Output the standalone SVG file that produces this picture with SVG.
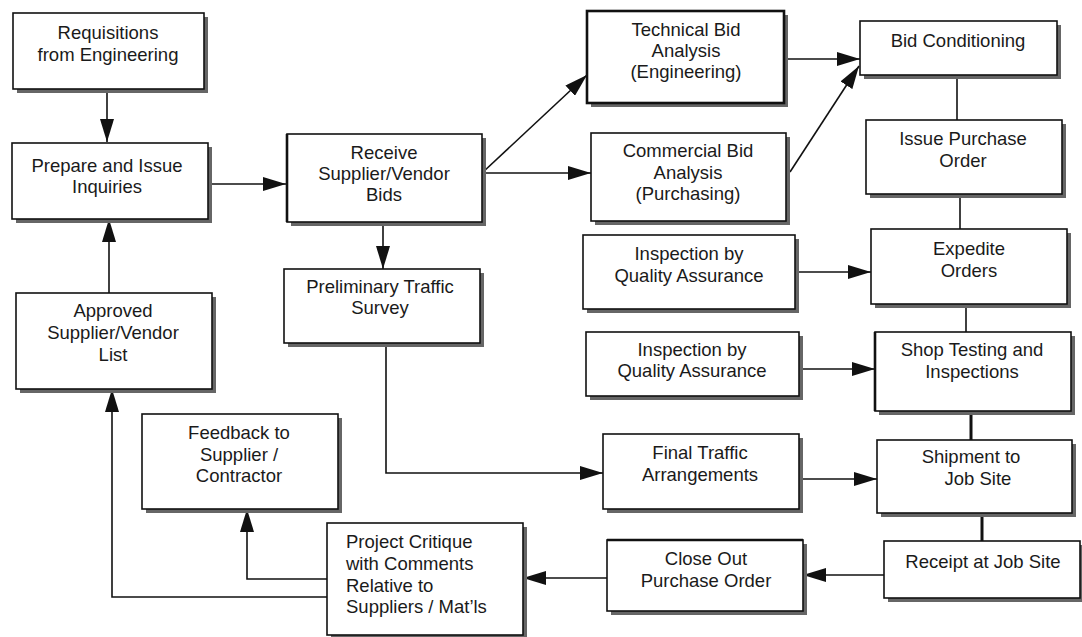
<svg xmlns="http://www.w3.org/2000/svg" width="1082" height="637" viewBox="0 0 1082 637">
<style>
.sh{fill:#666}
.bx{fill:#fff;stroke:#111;stroke-width:1.6}
.bx2{fill:#fff;stroke:#111;stroke-width:2.6}
text{font-family:"Liberation Sans",Arial,Helvetica,sans-serif;font-size:18.5px;fill:#1a1a1a;text-anchor:middle}
.l{text-anchor:start}
.c{fill:none;stroke:#111;stroke-width:1.6}
.t{fill:none;stroke:#111;stroke-width:3}
.a{marker-end:url(#ah)}
</style>
<defs>
<marker id="ah" markerUnits="userSpaceOnUse" markerWidth="24" markerHeight="14" refX="23" refY="7" orient="auto">
<path d="M0,0 L23,7 L0,14 Z" fill="#111"/>
</marker>
</defs>
<rect width="1082" height="637" fill="#fff"/>
<g id="connectors">
<path class="c a" d="M107,89 V142"/>
<path class="c a" d="M208,184 H286"/>
<path class="c a" d="M482,173 L587,75"/>
<path class="c a" d="M482,173 H591"/>
<path class="c a" d="M383,222 V269"/>
<path class="c a" d="M784,59 H860"/>
<path class="c a" d="M790,172 L859,66"/>
<path class="c" d="M957,75 V120"/>
<path class="c" d="M960,194 V229"/>
<path class="c a" d="M795,272 H871"/>
<path class="c" d="M966,304 V332"/>
<path class="c a" d="M799,369 H875"/>
<path class="t" d="M971,411 V440"/>
<path class="c a" d="M386,343 V473 H603"/>
<path class="c a" d="M799,479 H877"/>
<path class="t" d="M982,513 V541"/>
<path class="c a" d="M884,575 H803"/>
<path class="c a" d="M607,578 H523"/>
<path class="c a" d="M327,579 H247 V509"/>
<path class="c a" d="M327,597 H112 V389"/>
<path class="c a" d="M109,293 V219"/>
</g>
<g id="n-requisitions">
<rect class="sh" x="17" y="17" width="191" height="76"/>
<rect class="bx" x="13" y="13" width="191" height="76"/>
<text x="108" y="39">Requisitions</text>
<text x="108" y="61">from Engineering</text>
</g>
<g id="n-prepare">
<rect class="sh" x="16" y="147" width="196" height="76"/>
<rect class="bx" x="12" y="143" width="196" height="76"/>
<text x="107" y="172">Prepare and Issue</text>
<text x="107" y="193">Inquiries</text>
</g>
<g id="n-receive">
<rect class="sh" x="291" y="138" width="195" height="88"/>
<rect class="bx" x="287" y="134" width="195" height="88"/>
<path d="M287,134 V222" stroke="#111" stroke-width="2.6"/>
<text x="384" y="159">Receive</text>
<text x="384" y="180">Supplier/Vendor</text>
<text x="384" y="201">Bids</text>
</g>
<g id="n-technical">
<rect class="sh" x="591" y="15" width="197" height="92"/>
<rect class="bx2" x="587" y="11" width="197" height="92"/>
<text x="686" y="36">Technical Bid</text>
<text x="686" y="57">Analysis</text>
<text x="686" y="78">(Engineering)</text>
</g>
<g id="n-commercial">
<rect class="sh" x="595" y="137" width="195" height="88"/>
<rect class="bx" x="591" y="133" width="195" height="88"/>
<text x="688" y="157">Commercial Bid</text>
<text x="688" y="179">Analysis</text>
<text x="688" y="200">(Purchasing)</text>
</g>
<g id="n-bidcond">
<rect class="sh" x="864" y="25" width="197" height="54"/>
<rect class="bx" x="860" y="21" width="197" height="54"/>
<text x="958" y="47">Bid Conditioning</text>
</g>
<g id="n-issue">
<rect class="sh" x="870" y="124" width="196" height="74"/>
<rect class="bx" x="866" y="120" width="196" height="74"/>
<text x="963" y="145">Issue Purchase</text>
<text x="963" y="167">Order</text>
</g>
<g id="n-qa1">
<rect class="sh" x="587" y="239" width="212" height="74"/>
<rect class="bx" x="583" y="235" width="212" height="74"/>
<text x="689" y="260">Inspection by</text>
<text x="689" y="282">Quality Assurance</text>
</g>
<g id="n-expedite">
<rect class="sh" x="875" y="233" width="196" height="75"/>
<rect class="bx" x="871" y="229" width="196" height="75"/>
<text x="969" y="255">Expedite</text>
<text x="969" y="277">Orders</text>
</g>
<g id="n-qa2">
<rect class="sh" x="590" y="336" width="213" height="64"/>
<rect class="bx" x="586" y="332" width="213" height="64"/>
<text x="692" y="356">Inspection by</text>
<text x="692" y="377">Quality Assurance</text>
</g>
<g id="n-shop">
<rect class="sh" x="879" y="336" width="196" height="79"/>
<rect class="bx" x="875" y="332" width="196" height="79"/>
<path d="M875,332 V411" stroke="#111" stroke-width="2.6"/>
<text x="972" y="356">Shop Testing and</text>
<text x="972" y="378">Inspections</text>
</g>
<g id="n-approved">
<rect class="sh" x="20" y="297" width="196" height="96"/>
<rect class="bx" x="16" y="293" width="196" height="96"/>
<text x="113" y="317">Approved</text>
<text x="113" y="339">Supplier/Vendor</text>
<text x="113" y="361">List</text>
</g>
<g id="n-preliminary">
<rect class="sh" x="288" y="273" width="196" height="74"/>
<rect class="bx" x="284" y="269" width="196" height="74"/>
<text x="380" y="293">Preliminary Traffic</text>
<text x="380" y="314">Survey</text>
</g>
<g id="n-final">
<rect class="sh" x="607" y="438" width="196" height="75"/>
<rect class="bx" x="603" y="434" width="196" height="75"/>
<text x="700" y="459">Final Traffic</text>
<text x="700" y="481">Arrangements</text>
</g>
<g id="n-shipment">
<rect class="sh" x="881" y="444" width="195" height="73"/>
<rect class="bx" x="877" y="440" width="195" height="73"/>
<text x="971" y="463">Shipment to</text>
<text x="978" y="485">Job Site</text>
</g>
<g id="n-feedback">
<rect class="sh" x="146" y="418" width="196" height="95"/>
<rect class="bx" x="142" y="414" width="196" height="95"/>
<text x="239" y="439">Feedback to</text>
<text x="239" y="461">Supplier /</text>
<text x="239" y="482">Contractor</text>
</g>
<g id="n-critique">
<rect class="sh" x="331" y="527" width="196" height="112"/>
<rect class="bx" x="327" y="523" width="196" height="112"/>
<text class="l" x="346" y="548">Project Critique</text>
<text class="l" x="346" y="570">with Comments</text>
<text class="l" x="346" y="592">Relative to</text>
<text class="l" x="346" y="613">Suppliers / Mat’ls</text>
</g>
<g id="n-closeout">
<rect class="sh" x="611" y="544" width="196" height="71"/>
<rect class="bx" x="607" y="540" width="196" height="71"/>
<path d="M607,540 H803" stroke="#111" stroke-width="2.6"/>
<text x="706" y="565">Close Out</text>
<text x="706" y="587">Purchase Order</text>
</g>
<g id="n-receipt">
<rect class="sh" x="888" y="545" width="196" height="57"/>
<rect class="bx" x="884" y="541" width="196" height="57"/>
<text x="983" y="568">Receipt at Job Site</text>
</g>
</svg>
